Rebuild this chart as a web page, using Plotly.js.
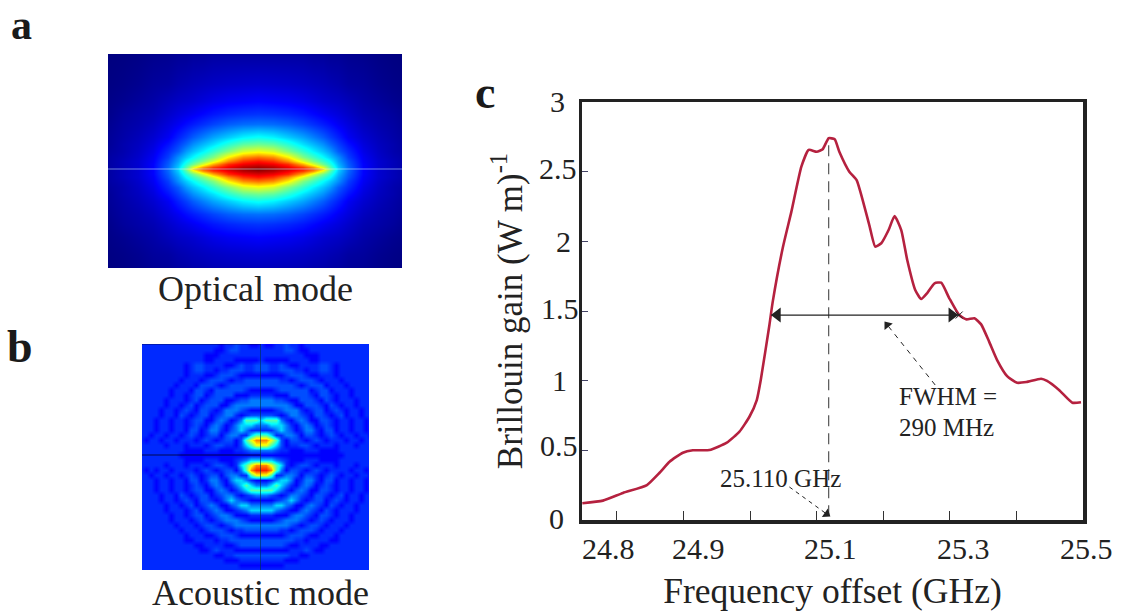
<!DOCTYPE html>
<html><head><meta charset="utf-8">
<script src="https://cdn.plot.ly/plotly-3.0.1.min.js"></script>
<style>html,body{margin:0;padding:0;background:#fff}#c{width:1126px;height:613px}</style>
</head><body><div id="c"></div>
<script>
// Panel c: Brillouin gain spectrum
const freq=[24.748,24.779,24.809,24.845,24.864,24.879,24.899,24.914,24.939,24.965,24.984,24.999,25.010,25.016,25.029,25.034,25.049,25.062,25.077,25.088,25.100,25.109,25.118,25.127,25.134,25.149,25.160,25.179,25.188,25.197,25.208,25.217,25.227,25.236,25.248,25.257,25.266,25.277,25.287,25.299,25.314,25.325,25.337,25.347,25.359,25.371,25.386,25.401,25.415,25.437,25.446,25.464,25.484,25.497];
const gain=[0.12,0.139,0.194,0.251,0.339,0.418,0.483,0.50,0.502,0.555,0.634,0.741,0.861,1.005,1.40,1.567,1.952,2.213,2.536,2.656,2.643,2.661,2.74,2.732,2.643,2.50,2.44,2.117,1.962,1.986,2.081,2.182,2.081,1.866,1.651,1.586,1.629,1.699,1.703,1.593,1.471,1.44,1.448,1.404,1.28,1.148,1.033,0.985,0.99,1.014,0.998,0.933,0.842,0.845];
const xTicks=[24.8,24.9,25.0,25.1,25.2,25.3,25.4,25.5];
const yTicks=[0.5,1,1.5,2,2.5];
const xLabels=['24.8','24.9','25.1','25.3','25.5'];
const yLabels=['3','2.5','2','1.5','1','0.5','0'];
const fwhmX=[25.032,25.314], fwhmY=[1.471,1.471];
const peakX=[25.118,25.118], peakY=[2.69,0.036];
const fwhmNoteX=[25.278,25.206], fwhmNoteY=[0.969,1.40];
const peakNoteX=[25.059,25.115], peakNoteY=[0.237,0.043];

// Panel a: optical mode, one quadrant
const optDx=[0,15,30,45,55,65,72,80,90,105,120,135,150];
const optDy=[0,2,5,8,12,18,25,32,45,55,68,85,115];
const optQuad=[
[1.0,.97,.93,.87,.80,.68,.50,.32,.21,.11,.07,.05,.03],
[.97,.95,.90,.83,.74,.60,.45,.31,.21,.11,.07,.05,.03],
[.92,.90,.85,.72,.60,.48,.40,.29,.20,.11,.07,.05,.03],
[.87,.84,.75,.60,.50,.42,.36,.27,.19,.105,.07,.05,.03],
[.78,.75,.65,.50,.43,.36,.31,.25,.17,.10,.065,.045,.03],
[.62,.59,.50,.41,.35,.30,.26,.20,.15,.09,.06,.04,.025],
[.48,.46,.40,.33,.29,.25,.21,.17,.125,.08,.055,.04,.02],
[.37,.35,.31,.27,.235,.20,.17,.14,.10,.07,.05,.035,.02],
[.22,.215,.20,.175,.155,.135,.12,.10,.08,.055,.04,.03,.015],
[.16,.155,.145,.13,.115,.10,.09,.08,.065,.045,.035,.025,.01],
[.11,.105,.10,.09,.08,.07,.065,.06,.05,.035,.025,.015,.007],
[.07,.068,.065,.06,.055,.05,.045,.04,.03,.025,.015,.008,.003],
[.03,.03,.03,.03,.025,.025,.02,.02,.015,.012,.006,.002,0]];

// Panel b: acoustic mode, half grid (5-step cells, one level digit per cell)
const acLevels=[.06,.11,.15,.185,.23,.32,.45,.62,.76,.86];
const acDy=[-115,-110,-105,-100,-95,-90,-85,-80,-75,-70,-65,-60,-55,-50,-45,-40,-35,-30,-25,-20,-15,-10,-5,0,5,10,15,20,25,30,35,40,45,50,55,60,65,70,75,80,85,90,95,100,105,110,115];
const acDx=[0,5,10,15,20,25,30,35,40,45,50,55,60,65,70,75,80,85,90,95,100,105,110,115,120];
const acRows=[
"11112 22211 22222 22222 22222",
"21122 32212 22222 22222 22222",
"22222 33211 22222 22222 22222",
"22222 22221 11222 22222 22222",
"21111 12222 11222 22222 22222",
"33223 21122 22332 12222 22222",
"33223 33221 22332 12222 22222",
"11111 23332 11222 12222 22222",
"33332 21233 32122 21222 22222",
"33333 33212 33312 22122 22222",
"11123 33333 12331 22212 22222",
"22211 13333 21332 12212 22222",
"44433 21133 32132 12221 22222",
"44444 43113 33213 21221 22222",
"11123 44421 23312 32122 12222",
"33321 24432 13321 23122 12222",
"56664 21343 11332 12212 21222",
"44555 42134 31232 12212 21222",
"22245 43124 42133 12212 21222",
"66522 44313 32123 21221 22122",
"88763 13321 23212 22122 12212",
"77653 12233 21222 12221 22222",
"44432 21112 22111 12222 22222",
"11111 11111 11111 11222 22222",
"55543 21112 22111 12222 22222",
"88765 21233 21222 12221 22222",
"99864 13321 23212 22212 21212",
"77622 44313 32123 21221 22122",
"11245 54124 42133 12212 21222",
"44565 42134 31232 12212 21222",
"66654 21343 11332 12212 21222",
"44321 24432 13321 23122 12222",
"11123 45421 23312 32122 12222",
"44455 43113 43213 21221 22222",
"55543 21134 32132 12221 22222",
"22211 13443 21332 12212 22222",
"11123 44432 12321 22212 22222",
"44444 43212 33212 22122 22222",
"33332 21233 32122 21222 22222",
"11111 23332 11222 12222 22222",
"33333 33221 22221 12222 22222",
"33333 21122 22112 22222 22222",
"11111 12223 21122 22222 22222",
"33333 32211 22222 22222 22222",
"22222 11122 22222 22222 22222",
"11111 22222 22222 22222 22222",
"22222 22222 22222 22222 22222"];

const jet=[[0,'#00007f'],[.11,'#0000ff'],[.36,'#00ffff'],[.5,'#7fff7f'],[.64,'#ffff00'],[.89,'#ff0000'],[1,'#7f0000']];
const W=1126,H=613;
const dx=(a,b)=>[a/W,b/W], dy=(t,b)=>[1-b/H,1-t/H];

// mirror the read-off quarter / half tables to full grids
const optX=optDx.slice(1).reverse().map(v=>-v).concat(optDx);
const optY=optDy.slice(1).reverse().map(v=>-v).concat(optDy);
const optRow=r=>r.slice(1).reverse().concat(r);
const optZ=optQuad.slice(1).reverse().map(optRow).concat(optQuad.map(optRow));
const acX=acDx.slice(1).reverse().map(v=>-v).concat(acDx);
const acZ=acRows.map(s=>{const r=s.replace(/ /g,'').split('').map(c=>acLevels[+c]);return r.slice(1).reverse().concat(r);});

const serif='"Liberation Serif","Times New Roman",serif';
const ink='#222222';
const traces=[
 {type:'heatmap',x:optX,y:optY,z:optZ,xaxis:'x2',yaxis:'y2',colorscale:jet,zmin:0,zmax:1,zsmooth:'best',showscale:false,hoverinfo:'skip'},
 {type:'heatmap',x:acX,y:acDy,z:acZ,xaxis:'x3',yaxis:'y3',colorscale:jet,zmin:0,zmax:1,zsmooth:'best',showscale:false,hoverinfo:'skip'},
 {type:'scatter',mode:'lines',x:peakX,y:peakY,line:{color:'#555',width:1.2,dash:'11px,7px'},hoverinfo:'skip'},
 {type:'scatter',mode:'lines',x:freq,y:gain,line:{color:'#b5213f',width:2.6,shape:'spline',smoothing:0.5},hoverinfo:'skip'},
 {type:'scatter',mode:'lines',x:fwhmX,y:fwhmY,line:{color:ink,width:1.3},hoverinfo:'skip'},
 {type:'scatter',mode:'markers',x:[25.041],y:[1.471],marker:{symbol:'triangle-left',size:13,color:ink},hoverinfo:'skip'},
 {type:'scatter',mode:'markers',x:[25.303],y:[1.471],marker:{symbol:'triangle-right',size:13,color:ink},hoverinfo:'skip'},
 {type:'scatter',mode:'markers',x:[25.314],y:[1.471],marker:{symbol:'x-thin',size:7,line:{color:ink,width:1}},hoverinfo:'skip'},
 {type:'scatter',mode:'lines',x:fwhmNoteX,y:fwhmNoteY,line:{color:ink,width:1,dash:'5px,5px'},hoverinfo:'skip'},
 {type:'scatter',mode:'markers',x:[fwhmNoteX[1]],y:[fwhmNoteY[1]],marker:{symbol:'triangle-up',angle:-38,size:9,color:ink},hoverinfo:'skip'},
 {type:'scatter',mode:'lines',x:peakNoteX,y:peakNoteY,line:{color:ink,width:1,dash:'4px,4px'},hoverinfo:'skip'},
 {type:'scatter',mode:'markers',x:[peakNoteX[1]],y:[peakNoteY[1]],marker:{symbol:'triangle-up',angle:125,size:9,color:ink},hoverinfo:'skip'}
];
const hidden={visible:false,fixedrange:true};
const tcol='#222222';
const txt=(text,x,y,size,extra)=>Object.assign({text,x:x/W,y:1-y/H,xref:'paper',yref:'paper',showarrow:false,xanchor:'center',yanchor:'middle',font:{family:serif,size,color:tcol}},extra||{});
const bold=s=>({font:{family:serif,size:s,color:'#1a1a1a',weight:700}});
const xLabelPx=[608,698,830,963,1086];
const yLabelPx=[[557,102],[558,168],[563,242],[560,308],[559,380],[559,445],[556,518]];
const layout={
 width:W,height:H,margin:{l:0,r:0,t:0,b:0},paper_bgcolor:'#fff',plot_bgcolor:'rgba(0,0,0,0)',showlegend:false,
 font:{family:serif,color:tcol},
 xaxis:{domain:dx(582,1083),range:[24.7475,25.5],tickmode:'array',tickvals:xTicks,showticklabels:false,ticks:'inside',ticklen:9,tickwidth:1,tickcolor:'#333',
   showgrid:false,zeroline:false,showline:true,mirror:true,linewidth:3.5,linecolor:ink,
   title:{text:'Frequency offset (GHz)',font:{family:serif,size:35.5,color:tcol},standoff:56}},
 yaxis:{domain:dy(102,520),range:[0,3],tickmode:'array',tickvals:yTicks,showticklabels:false,ticks:'inside',ticklen:6,tickwidth:1,tickcolor:'#446',
   showgrid:false,zeroline:false,showline:true,mirror:true,linewidth:3.5,linecolor:ink,
   title:{text:'Brillouin gain (W m)<sup>-1</sup>',font:{family:serif,size:35,color:tcol},standoff:46}},
 xaxis2:Object.assign({domain:dx(108,402),range:[-150,144],anchor:'y2'},hidden),
 yaxis2:Object.assign({domain:dy(54,268),range:[99,-115],anchor:'x2'},hidden),
 xaxis3:Object.assign({domain:dx(142,369),range:[-118.5,108.5],anchor:'y3'},hidden),
 yaxis3:Object.assign({domain:dy(344,570),range:[115,-111],anchor:'x3'},hidden),
 shapes:[
  {type:'line',xref:'x2',yref:'y2',x0:-150,x1:144,y0:0,y1:0,line:{color:'rgba(200,235,255,.55)',width:1}},
  {type:'line',xref:'x3',yref:'y3',x0:0,x1:0,y0:-111,y1:115,line:{color:'rgba(0,50,70,.6)',width:1}},
  {type:'line',xref:'x3',yref:'y3',x0:-118.5,x1:0,y0:0,y1:0,line:{color:'rgba(0,0,40,.8)',width:1.2}},
  {type:'line',xref:'x3',yref:'y3',x0:-118.5,x1:0,y0:-111,y1:-111,line:{color:'rgba(0,0,40,.7)',width:1}}
 ],
 annotations:[
  txt('a',21,25,42,bold(42)),
  txt('b',20,346,46,bold(46)),
  txt('c',485,92,46,bold(46)),
  txt('Optical mode',255,289,36),
  txt('Acoustic mode',260,593,36),
  txt('FWHM =',948,396,25),
  txt('290 MHz',946,427,25),
  txt('25.110 GHz',780,478,25)
 ].concat(xLabels.map((t,i)=>txt(t,xLabelPx[i],548,30)),yLabels.map((t,i)=>txt(t,yLabelPx[i][0],yLabelPx[i][1],30)))
};
Plotly.newPlot('c',traces,layout,{staticPlot:true,displayModeBar:false});
</script></body></html>
